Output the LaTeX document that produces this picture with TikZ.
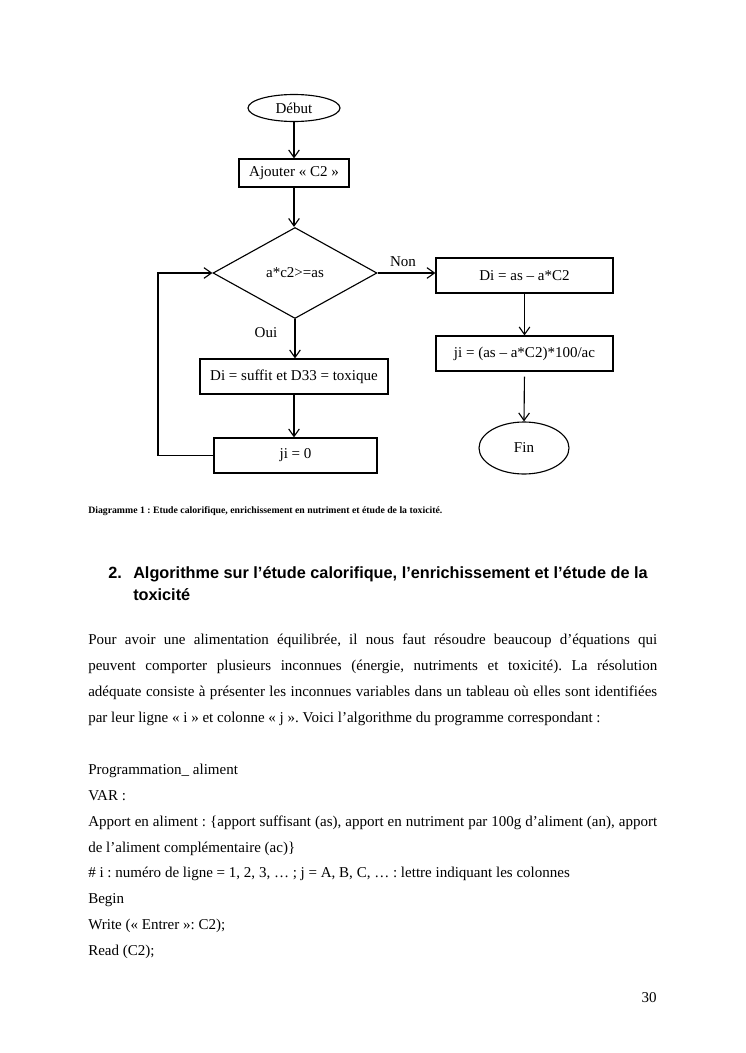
\documentclass[tikz,border=0pt]{standalone}
\usepackage{fontspec}
\setmainfont{Liberation Serif}
\setsansfont{Liberation Sans}
\usetikzlibrary{shapes.geometric,arrows.meta}
\newcommand\pxu{0.799pt}
\newcommand\twelve{\fontsize{12}{14}\selectfont}
\newcommand\jbox[1]{\makebox[454.6pt][s]{#1}}
\begin{document}
\frenchspacing
\begin{tikzpicture}[x=0.799pt,y=-0.799pt,
  every node/.style={inner sep=0pt},
  box/.style={draw, line width=0.9pt, rectangle, font=\twelve},
  oval/.style={draw, line width=0.9pt, ellipse, font=\twelve},
  dia/.style={draw, line width=0.9pt, diamond, font=\twelve},
  arr/.style={line width=0.9pt, -{Straight Barb[length=6pt,width=8.5pt]}},
  lab/.style={font=\twelve},
  txt/.style={anchor=base west, font=\twelve},
  jline/.style={anchor=base west, font=\twelve},
  head/.style={anchor=base west, font=\sffamily\bfseries\fontsize{13}{15}\selectfont}
]
\useasboundingbox[fill=white] (0,0) rectangle (745,1053);

% flowchart
\node[oval, minimum width=92*\pxu, minimum height=27*\pxu] (start) at (294,108) {Début};
\node[box, minimum width=110*\pxu, minimum height=28*\pxu] (add) at (294,173) {Ajouter « C2 »};
\node[dia, minimum width=164*\pxu, minimum height=91*\pxu] (dec) at (295,273) {a*c2>=as};
\node[box, minimum width=177*\pxu, minimum height=35*\pxu] (dis) at (524.5,275.5) {Di = as – a*C2};
\node[box, minimum width=177*\pxu, minimum height=35*\pxu] (jic) at (524.5,353.5) {ji = (as – a*C2)*100/ac};
\node[oval, minimum width=90*\pxu, minimum height=52*\pxu] (fin) at (524,448) {Fin};
\node[box, minimum width=188*\pxu, minimum height=35*\pxu] (suf) at (294,376.5) {Di = suffit et D33 = toxique};
\node[box, minimum width=163*\pxu, minimum height=35*\pxu] (zero) at (295.5,455.5) {ji = 0};
\node[lab] (non) at (403,262) {Non};
\node[lab] (oui) at (266,333) {Oui};
\coordinate (lt) at (158,273);

\draw[arr] (start.south) -- (start.south |- add.north);
\draw[arr] (add.south) -- (add.south |- dec.north);
\draw[arr] (dec.east) -- (dec.east -| dis.west);
\draw[arr] (dis.south) -- (jic.north);
\draw[arr, shorten <=4pt] (jic.south) -- (fin.north);
\draw[arr] (dec.south) -- (dec.south |- suf.north);
\draw[arr] (suf.south) -- (suf.south |- zero.north);
\draw[arr] (zero.west) -- (zero.west -| lt) -- (lt) -- (dec.west);

% caption
\node[anchor=base west, font=\fontsize{7.8}{9}\selectfont\bfseries] (cap) at (88,513) {Diagramme 1 : Etude calorifique, enrichissement en nutriment et étude de la toxicité.};

% heading
\node[head] (hnum) at (108,578) {2.};
\node[head] (h1) at (133,578) {Algorithme sur l’étude calorifique, l’enrichissement et l’étude de la};
\node[head] (h2) at (133,600) {toxicité};

% paragraph
\node[jline] (p1) at (88,644) {\jbox{Pour avoir une alimentation équilibrée, il nous faut résoudre beaucoup d’équations qui}};
\node[jline] (p2) at (88,670) {\jbox{peuvent comporter plusieurs inconnues (énergie, nutriments et toxicité). La résolution}};
\node[jline] (p3) at (88,696) {\jbox{adéquate consiste à présenter les inconnues variables dans un tableau où elles sont identifiées}};
\node[txt] (p4) at (88,722) {par leur ligne « i » et colonne « j ». Voici l’algorithme du programme correspondant :};

% program
\node[txt] (l1) at (88,774) {Programmation\_ aliment};
\node[txt] (l2) at (88,800) {VAR :};
\node[jline] (l3) at (88,826) {\jbox{Apport en aliment : \{apport suffisant (as), apport en nutriment par 100g d’aliment (an), apport}};
\node[txt] (l4) at (88,852) {de l’aliment complémentaire (ac)\}};
\node[txt] (l5) at (88,877) {\# i : numéro de ligne = 1, 2, 3, … ; j = A, B, C, … : lettre indiquant les colonnes};
\node[txt] (l6) at (88,903) {Begin};
\node[txt] (l7) at (88,929) {Write (« Entrer »: C2);};
\node[txt] (l8) at (88,955) {Read (C2);};

\node[anchor=base east, font=\twelve] (pg) at (657,1002) {30};
\end{tikzpicture}
\end{document}
